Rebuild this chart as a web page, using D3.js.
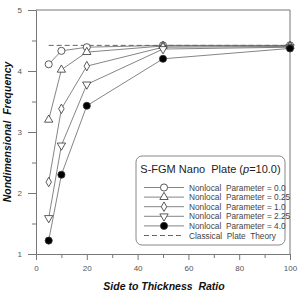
<!DOCTYPE html>
<html>
<head>
<meta charset="utf-8">
<script src="https://cdn.jsdelivr.net/npm/d3@7"></script>
<style>
  body { margin: 0; background: #fff; }
  svg { display: block; }
  text { white-space: pre; }
</style>
</head>
<body>
<div id="chart"></div>
<script>
// side to thickness ratios
let ratios = [5, 10, 20, 50, 100];

// nondimensional frequency per nonlocal parameter
let nl00 = [4.11, 4.33, 4.39, 4.42, 4.42];
let nl025 = [3.20, 4.02, 4.31, 4.41, 4.41];
let nl10 = [2.18, 3.38, 4.08, 4.39, 4.40];
let nl225 = [1.59, 2.78, 3.78, 4.36, 4.39];
let nl40 = [1.22, 2.30, 3.43, 4.20, 4.37];
let classical = 4.42;

let seriesNames = ['Nonlocal  Parameter = 0.0', 'Nonlocal  Parameter = 0.25',
    'Nonlocal  Parameter = 1.0', 'Nonlocal  Parameter = 2.25', 'Nonlocal  Parameter = 4.0'];
let classicalName = 'Classical  Plate  Theory';

let xTicks = [0, 20, 40, 60, 80, 100];
let yTicks = [1, 2, 3, 4, 5];

// svg dimensions
let svgWidth = 299,
    svgHeight = 292;

let margin = { top: 10, right: 9, bottom: 38, left: 36 };
let chartWidth = svgWidth - margin.left - margin.right;
let chartHeight = svgHeight - margin.top - margin.bottom;

let svg = d3.select('#chart')
    .append('svg')
    .attr('width', svgWidth)
    .attr('height', svgHeight);

let chartGroup = svg.append('g')
    .attr('transform', `translate(${margin.left}, ${margin.top})`);

let xScale = d3.scaleLinear().domain([0, 100]).range([0, chartWidth]);
let yScale = d3.scaleLinear().domain([1, 5]).range([chartHeight, 0]);

let axisColor = '#777';
let lineColor = '#666';
let fontFam = 'Liberation Sans, Arial, sans-serif';

// minor ticks
chartGroup.append('g')
    .attr('transform', `translate(0, ${chartHeight})`)
    .call(d3.axisBottom(xScale).tickValues([10, 30, 50, 70, 90]).tickSize(4).tickFormat(''))
    .call(g => g.select('.domain').remove());
chartGroup.append('g')
    .call(d3.axisLeft(yScale).tickValues([1.5, 2.5, 3.5, 4.5]).tickSize(4).tickFormat(''))
    .call(g => g.select('.domain').remove());

// major axes
chartGroup.append('g')
    .attr('transform', `translate(0, ${chartHeight})`)
    .call(d3.axisBottom(xScale).tickValues(xTicks).tickFormat(d3.format('d'))
        .tickSize(6).tickSizeOuter(0).tickPadding(5));
chartGroup.append('g')
    .call(d3.axisLeft(yScale).tickValues(yTicks).tickFormat(d3.format('d'))
        .tickSize(8).tickSizeOuter(0).tickPadding(6));

chartGroup.selectAll('.tick line, .domain').attr('stroke', axisColor).attr('stroke-width', 1);
chartGroup.selectAll('.tick text')
    .attr('fill', '#555')
    .style('font-family', fontFam)
    .style('font-size', '8px');

// top and right frame
chartGroup.append('line')
    .attr('x1', 0).attr('x2', chartWidth).attr('y1', 0).attr('y2', 0)
    .attr('stroke', axisColor);
chartGroup.append('line')
    .attr('x1', chartWidth).attr('x2', chartWidth).attr('y1', 0).attr('y2', chartHeight)
    .attr('stroke', axisColor);

// symbols
let symbolDefs = [
    { type: d3.symbolCircle, size: 40, fill: '#fff', rotate: 0 },
    { type: d3.symbolTriangle, size: 30, fill: '#fff', rotate: 0 },
    { type: d3.symbolDiamond, size: 26, fill: '#fff', rotate: 0 },
    { type: d3.symbolTriangle, size: 30, fill: '#fff', rotate: 180 },
    { type: d3.symbolCircle, size: 40, fill: '#000', rotate: 0 }
];

function drawSymbol(g, def, x, y) {
    g.append('path')
        .attr('d', d3.symbol().type(def.type).size(def.size)())
        .attr('transform', `translate(${x}, ${y}) rotate(${def.rotate})`)
        .attr('fill', def.fill)
        .attr('stroke', '#333')
        .attr('stroke-width', 0.8);
}

// classical dashed line
chartGroup.append('line')
    .attr('x1', xScale(ratios[0])).attr('x2', xScale(ratios[ratios.length - 1]))
    .attr('y1', yScale(classical)).attr('y2', yScale(classical))
    .attr('stroke', '#666')
    .attr('stroke-width', 1)
    .attr('stroke-dasharray', '5,3');

let allSeries = [nl00, nl025, nl10, nl225, nl40];
let line = d3.line()
    .x((d, i) => xScale(ratios[i]))
    .y(d => yScale(d));

allSeries.forEach(vals => {
    chartGroup.append('path')
        .datum(vals)
        .attr('d', line)
        .attr('fill', 'none')
        .attr('stroke', lineColor)
        .attr('stroke-width', 0.8);
});
allSeries.forEach((vals, k) => {
    vals.forEach((v, i) => drawSymbol(chartGroup, symbolDefs[k], xScale(ratios[i]), yScale(v)));
});

// legend
let lg = svg.append('g').attr('transform', 'translate(136, 156)');
lg.append('rect')
    .attr('width', 149).attr('height', 89)
    .attr('rx', 6).attr('ry', 6)
    .attr('fill', '#fff')
    .attr('stroke', '#888')
    .attr('stroke-width', 1);

let title = lg.append('text')
    .attr('x', 74.5).attr('y', 16.5)
    .attr('text-anchor', 'middle')
    .attr('fill', '#222')
    .style('font-family', fontFam)
    .style('font-size', '11px');
title.append('tspan').text('S-FGM Nano  Plate (');
title.append('tspan').style('font-style', 'italic').text('p');
title.append('tspan').text('=10.0)');

let rowY = d3.range(6).map(i => 31.5 + i * 9.6);
seriesNames.forEach((name, k) => {
    lg.append('line')
        .attr('x1', 8).attr('x2', 48).attr('y1', rowY[k]).attr('y2', rowY[k])
        .attr('stroke', lineColor).attr('stroke-width', 0.8);
    drawSymbol(lg, symbolDefs[k], 28, rowY[k]);
    lg.append('text')
        .attr('x', 53).attr('y', rowY[k] + 3)
        .attr('fill', '#444')
        .style('font-family', fontFam)
        .style('font-size', '8.3px')
        .text(name);
});
lg.append('line')
    .attr('x1', 8).attr('x2', 48).attr('y1', rowY[5]).attr('y2', rowY[5])
    .attr('stroke', '#666').attr('stroke-dasharray', '5,3');
lg.append('text')
    .attr('x', 53).attr('y', rowY[5] + 3)
    .attr('fill', '#444')
    .style('font-family', fontFam)
    .style('font-size', '8.3px')
    .text(classicalName);

// axis titles
svg.append('text')
    .attr('x', margin.left + chartWidth / 2 + 1).attr('y', 290)
    .attr('text-anchor', 'middle')
    .attr('fill', '#111')
    .style('font-family', fontFam)
    .style('font-size', '10.5px')
    .style('font-weight', 'bold')
    .style('font-style', 'italic')
    .text('Side to Thickness  Ratio');

svg.append('text')
    .attr('transform', `translate(11, ${margin.top + chartHeight / 2}) rotate(-90)`)
    .attr('text-anchor', 'middle')
    .attr('fill', '#111')
    .style('font-family', fontFam)
    .style('font-size', '10.5px')
    .style('font-weight', 'bold')
    .style('font-style', 'italic')
    .text('Nondimensional  Frequency');
</script>
</body>
</html>
